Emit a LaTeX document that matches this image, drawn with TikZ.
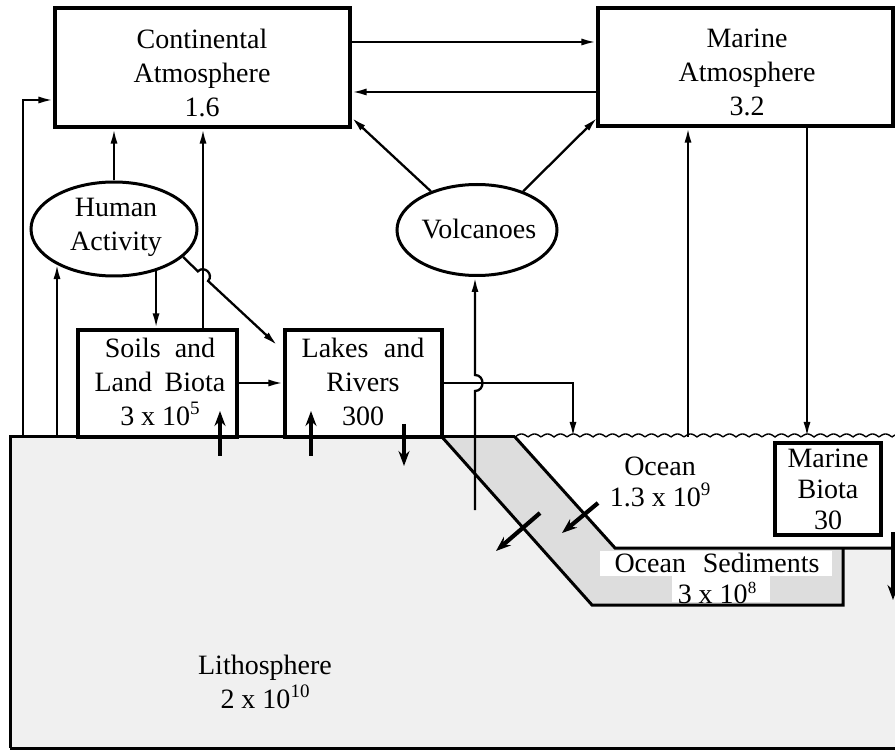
\documentclass[tikz,border=0pt]{standalone}
\usepackage{fontspec}
\setmainfont{Liberation Serif}
\usetikzlibrary{shapes.geometric,arrows.meta,calc}
\newcommand{\supx}[1]{\raisebox{0.4em}{\fontsize{19}{19}\selectfont #1}}
\newcommand{\supy}[1]{\raisebox{0.33em}{\fontsize{17}{17}\selectfont #1}}
\begin{document}
\begin{tikzpicture}[x=1pt,y=-1pt,
 txt/.style={font=\fontsize{28}{34}\selectfont,align=center,inner sep=0pt},
 sbox/.style={draw,line width=3.2pt,inner sep=0pt,fill=white},
 oval/.style={draw,ellipse,line width=3pt,inner sep=0pt,fill=white},
 conn/.style={line width=2.3pt,-{Latex[length=15pt,width=7pt]}},
 fat/.style={line width=4.2pt,-{Stealth[length=15pt,width=11pt,inset=5pt]}},
 rim/.style={line width=3pt},
]
\useasboundingbox (0,0) rectangle (895,751);
% ground regions
\fill[gray!12] (10,437) -- (442,437) -- (592,605) -- (843,605) -- (843,548) -- (895,548) -- (895,748) -- (10,748) -- cycle;
\fill[gray!27] (442,437) -- (515,437) -- (615,548) -- (843,548) -- (843,605) -- (592,605) -- cycle;
% white patches behind the sediment labels
\fill[white] (600,551) rectangle (832,576);
\fill[white] (672,576) rectangle (770,602);
\draw[rim] (10,748) -- (10,437) -- (515,437);
\draw[rim] (442,437) -- (592,605) -- (843,605) -- (843,548);
\draw[rim] (515,437) -- (615,548) -- (895,548);
\draw[rim] (10,748) -- (895,748);
% water surface
\draw[line width=1.4pt] plot[domain=515:895,samples=400] (\x,{437-3*abs(sin((\x-515)/13*180))});
% boxes
\node[sbox,minimum width=295pt,minimum height=119pt] (ca) at (202.5,67.5) {};
\node[sbox,minimum width=295pt,minimum height=118pt] (ma) at (745.5,67) {};
\node[sbox,minimum width=159pt,minimum height=107pt] (sl) at (157.5,383.5) {};
\node[sbox,minimum width=157pt,minimum height=107pt] (lr) at (363.5,383.5) {};
\node[sbox,minimum width=106pt,minimum height=92pt] (mb) at (828,489) {};
\node[oval,minimum width=166pt,minimum height=94pt] (ha) at (114,229) {};
\node[oval,minimum width=160pt,minimum height=91pt] (vo) at (477,230) {};
% texts
\node[txt] (ca-t) at (202,73) {Continental\\Atmosphere\\1.6};
\node[txt] (ma-t) at (747,72) {Marine\\Atmosphere\\3.2};
\node[txt] (ha-t) at (116,227) {Human\\Activity};
\node[txt] (vo-t) at (479,229) {Volcanoes};
\node[txt] (sl-t) at (160,382) {Soils\hspace{0.5em}and\\Land\hspace{0.45em}Biota\\3 x 10\supx{5}};
\node[txt] (lr-t) at (363,382) {Lakes\hspace{0.55em}and\\Rivers\\300};
\node[txt,font=\fontsize{28}{31}\selectfont] (mb-t) at (828,489) {Marine\\Biota\\30};
\node[txt,font=\fontsize{28}{31}\selectfont] (oc-t) at (660,482) {Ocean\\1.3 x 10\supx{9}};
\node[txt,font=\fontsize{28}{31}\selectfont] (os-t) at (717,578) {Ocean\hspace{0.6em}Sediments\\3 x 10\supy{8}};
\node[txt] (li-t) at (265,682) {Lithosphere\\2 x 10\supx{10}};
% ground coordinates
\coordinate (g23) at (23,437);
\coordinate (g57) at (57,437);
\coordinate (w573) at (573,437);
\coordinate (l475) at (475,510);
\coordinate (w688) at (688,437);
\coordinate (w807) at (807,437);
% connectors
\draw[conn] (g23) -- (g23 |- 0,100) -- (ca.west |- 0,100);
\draw[conn] (g57) -- (g57 |- ha.211);
\draw[conn] (ha.north) -- (ha.north |- ca.south);
\draw[conn] (sl.north -| 203,0) -- (ca.south -| 203,0);
\draw[conn] (ha.315) -- (ha.315 |- sl.north);
\draw[conn] (ha.-22) -- (197.9,271.4) .. controls (204.0,264.8) and (214.2,274.4) .. (208.1,281.0) -- ($(lr.north west)+(-6,17)$);
\draw[conn] (sl.east |- 0,383) -- (lr.west |- 0,383);
\draw[conn] (lr.east |- 0,383) -- (w573 |- 0,383) -- (w573);
\draw[conn] (l475) -- (475,391) .. controls (485,391) and (485,375) .. (475,375) -- (vo.south -| l475);
\draw[conn] (vo.140) -- ($(ca.south east)+(0,-11)$);
\draw[conn] (vo.40) -- ($(ma.south west)+(1,-10)$);
\draw[conn] (ca.east |- 0,42) -- (ma.west |- 0,42);
\draw[conn] (ma.west |- 0,92) -- (ca.east |- 0,92);
\draw[conn] (w688) -- (ma.south -| w688);
\draw[conn] (ma.south -| w807) -- (w807);
% flux markers
\coordinate (f1a) at (220,456); \coordinate (f1b) at (220,411);
\coordinate (f2a) at (311,456); \coordinate (f2b) at (311,411);
\coordinate (f3a) at (404,424); \coordinate (f3b) at (404,466);
\coordinate (f4a) at (598,503); \coordinate (f4b) at (562,533);
\coordinate (f5a) at (540,513); \coordinate (f5b) at (496,551);
\coordinate (f6a) at (893,532); \coordinate (f6b) at (893,600);
\draw[fat] (f1a) -- (f1b);
\draw[fat] (f2a) -- (f2b);
\draw[fat] (f3a) -- (f3b);
\draw[fat] (f4a) -- (f4b);
\draw[fat] (f5a) -- (f5b);
\draw[fat] (f6a) -- (f6b);
\end{tikzpicture}
\end{document}
